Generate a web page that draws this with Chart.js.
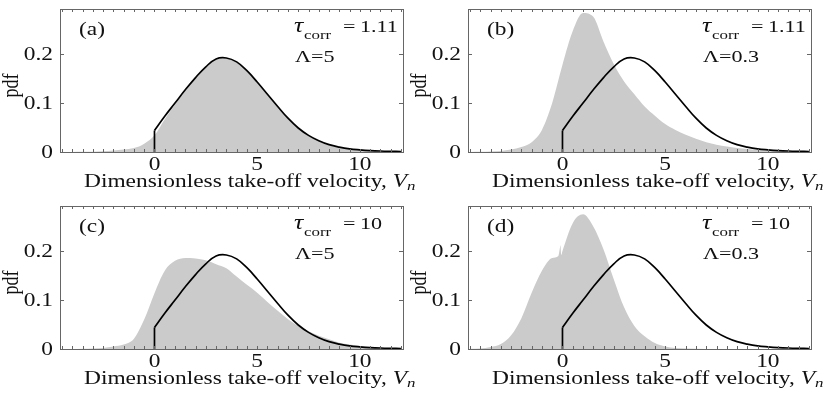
<!DOCTYPE html>
<html>
<head>
<meta charset="utf-8">
<script src="https://cdn.jsdelivr.net/npm/chart.js@4.4.0/dist/chart.umd.min.js"></script>
<style>
    html, body { margin: 0; padding: 0; background: #fff; }
    body { width: 830px; height: 397px; position: relative; overflow: hidden; }
    canvas { position: absolute; }
</style>
</head>
<body>
<canvas id="panel-a"></canvas>
<canvas id="panel-b"></canvas>
<canvas id="panel-c"></canvas>
<canvas id="panel-d"></canvas>
<script>
// model curve (same in all four panels)
const curveX = [0, 0.5, 1, 1.5, 2, 2.5, 3, 3.5, 4, 4.5, 5, 5.5, 6, 6.5, 7, 7.5, 8, 8.5, 9, 9.5, 10, 10.5, 11, 11.5, 12];
const curveY = [0.044, 0.073, 0.100, 0.127, 0.152, 0.174, 0.190, 0.192, 0.184, 0.166, 0.143, 0.118, 0.093, 0.069, 0.049, 0.034, 0.023, 0.015, 0.010, 0.0065, 0.0045, 0.003, 0.002, 0.0014, 0.001];
const stemX = [0, 0];
const stemY = [0, 0.044];

// histograms
const binX = [-4.5, -4, -3.5, -3, -2.5, -2, -1.5, -1, -0.5, 0, 0.5, 1, 1.5, 2, 2.5, 3, 3.5, 4, 4.5, 5, 5.5, 6, 6.5, 7, 7.5, 8, 8.5, 9, 9.5, 10, 10.5, 11, 11.5, 12];
const histA = [0, 0, 0.0003, 0.0007, 0.0015, 0.003, 0.005, 0.008, 0.017, 0.034, 0.067, 0.097, 0.125, 0.151, 0.173, 0.189, 0.191, 0.183, 0.165, 0.142, 0.117, 0.092, 0.068, 0.048, 0.033, 0.022, 0.014, 0.009, 0.006, 0.004, 0.0028, 0.0018, 0.0012, 0.0008];
const histB = [0, 0.0005, 0.001, 0.002, 0.005, 0.010, 0.020, 0.045, 0.100, 0.178, 0.247, 0.284, 0.276, 0.225, 0.179, 0.144, 0.118, 0.093, 0.074, 0.057, 0.045, 0.035, 0.027, 0.020, 0.015, 0.011, 0.008, 0.006, 0.004, 0.003, 0.002, 0.0014, 0.001, 0.0007];
const histC = [0, 0, 0.0005, 0.001, 0.002, 0.005, 0.009, 0.021, 0.060, 0.114, 0.160, 0.180, 0.186, 0.185, 0.181, 0.173, 0.165, 0.148, 0.131, 0.115, 0.096, 0.078, 0.061, 0.047, 0.036, 0.027, 0.020, 0.013, 0.009, 0.006, 0.004, 0.0025, 0.0015, 0.001];
const histDX = [-4.5, -4, -3.5, -3, -2.5, -2, -1.5, -1, -0.5, -0.2, -0.13, -0.1, -0.06, 0, 0.5, 1, 1.5, 2, 2.5, 3, 3.5, 4, 4.5, 5, 5.5, 6, 7, 8, 10, 12];
const histDY = [0.0005, 0.001, 0.004, 0.010, 0.028, 0.063, 0.115, 0.160, 0.186, 0.190, 0.205, 0.212, 0.192, 0.200, 0.257, 0.275, 0.250, 0.203, 0.142, 0.085, 0.047, 0.026, 0.012, 0.005, 0.002, 0.001, 0, 0, 0, 0];

// axes
const xTickVals = [0, 5, 10];
const xMinorStep = 0.5;
const yTickVals = [0, 0.1, 0.2];

// annotations
const panelLabels = ['(a)', '(b)', '(c)', '(d)'];
const tauValues = ['1.11', '1.11', '10', '10'];
const lambdaValues = ['5', '0.3', '5', '0.3'];

const FONT = '"Liberation Serif", "Times New Roman", serif';
const SX = 1.3; // the picture is stretched sideways

function toPoints(xs, ys) {
    return xs.map((x, i) => ({x: x, y: ys[i]}));
}

// draw text stretched horizontally, returns right edge
function txt(ctx, s, x, y, font, align) {
    ctx.save();
    ctx.font = font;
    const w = ctx.measureText(s).width * SX;
    let x0 = x;
    if (align === 'right') x0 = x - w;
    else if (align === 'center') x0 = x - w / 2;
    ctx.translate(x0, y);
    ctx.scale(SX, 1);
    ctx.textAlign = 'left';
    ctx.textBaseline = 'alphabetic';
    ctx.fillText(s, 0, 0);
    ctx.restore();
    return x0 + w;
}

const frame = {
    id: 'frame',
    afterDraw(chart) {
        const ctx = chart.ctx;
        const a = chart.chartArea;
        const xs = chart.scales.x;
        const ys = chart.scales.y;
        const idx = chart.options.panelIndex;

        ctx.save();
        // box
        ctx.strokeStyle = '#666';
        ctx.lineWidth = 1;
        ctx.strokeRect(Math.round(a.left) + 0.5, Math.round(a.top) + 0.5,
            Math.round(a.right - a.left), Math.round(a.bottom - a.top));

        // inward ticks
        ctx.beginPath();
        for (let v = -4.5; v <= 12; v += xMinorStep) {
            const px = Math.round(xs.getPixelForValue(v)) + 0.5;
            ctx.moveTo(px, a.bottom);
            ctx.lineTo(px, a.bottom - 3);
            ctx.moveTo(px, a.top);
            ctx.lineTo(px, a.top + 3);
        }
        yTickVals.forEach(v => {
            const py = Math.round(ys.getPixelForValue(v)) + 0.5;
            ctx.moveTo(a.left, py);
            ctx.lineTo(a.left + 4, py);
            ctx.moveTo(a.right, py);
            ctx.lineTo(a.right - 4, py);
        });
        ctx.stroke();

        ctx.fillStyle = '#111';
        const f18 = '18px ' + FONT;
        const f17 = '17px ' + FONT;
        const f13 = '13px ' + FONT;

        // tick labels
        xTickVals.forEach(v => {
            txt(ctx, String(v), xs.getPixelForValue(v), a.bottom + 18, f18, 'center');
        });
        yTickVals.forEach(v => {
            txt(ctx, String(v), a.left - 7, ys.getPixelForValue(v) + 6, f18, 'right');
        });

        // x title
        let x = txt(ctx, 'Dimensionless take-off velocity, ', a.left + 24, a.bottom + 35, f18, 'left');
        x = txt(ctx, 'V', x, a.bottom + 35, 'italic ' + f18, 'left');
        txt(ctx, 'n', x, a.bottom + 38, 'italic ' + f13, 'left');

        // y title
        ctx.save();
        ctx.translate(a.left - 42, (a.top + a.bottom) / 2 + 5);
        ctx.rotate(-Math.PI / 2);
        ctx.scale(1, SX);
        ctx.font = f18;
        ctx.textAlign = 'center';
        ctx.textBaseline = 'alphabetic';
        ctx.fillText('pdf', 0, 0);
        ctx.restore();

        // panel label and parameters
        txt(ctx, panelLabels[idx], a.left + 19, a.top + 26, f18, 'left');
        txt(ctx, '\u03C4', a.left + 234, a.top + 23, 'italic 20px ' + FONT, 'left');
        txt(ctx, 'corr', a.left + 244, a.top + 30, f13, 'left');
        txt(ctx, '=', a.left + 283, a.top + 23, f17, 'left');
        txt(ctx, tauValues[idx], a.left + 300, a.top + 23, f17, 'left');
        txt(ctx, '\u039B=' + lambdaValues[idx], a.left + 235, a.top + 53, f17, 'left');
        ctx.restore();
    }
};

function makePanel(id, idx, left, top, width, height, histX, histY) {
    const canvas = document.getElementById(id);
    canvas.width = width;
    canvas.height = height;
    canvas.style.left = left + 'px';
    canvas.style.top = top + 'px';
    canvas.style.width = width + 'px';
    canvas.style.height = height + 'px';

    return new Chart(canvas, {
        type: 'line',
        data: {
            datasets: [
                {
                    data: toPoints(curveX, curveY),
                    borderColor: '#000',
                    borderWidth: 1.7,
                    pointRadius: 0,
                    tension: 0.4,
                    fill: false,
                    order: 0
                },
                {
                    data: toPoints(stemX, stemY),
                    borderColor: '#000',
                    borderWidth: 1.7,
                    pointRadius: 0,
                    tension: 0,
                    fill: false,
                    order: 1
                },
                {
                    data: toPoints(histX, histY),
                    borderColor: 'rgba(0,0,0,0)',
                    borderWidth: 0,
                    backgroundColor: '#cbcbcb',
                    pointRadius: 0,
                    cubicInterpolationMode: 'monotone',
                    fill: 'origin',
                    order: 2
                }
            ]
        },
        options: {
            panelIndex: idx,
            responsive: false,
            animation: false,
            devicePixelRatio: 1,
            layout: {padding: {left: 0, top: 9, right: width - 403, bottom: 0}},
            plugins: {legend: {display: false}, tooltip: {enabled: false}},
            scales: {
                x: {
                    type: 'linear',
                    min: -4.6,
                    max: 12.1,
                    grid: {display: false},
                    border: {display: false},
                    ticks: {display: false},
                    afterBuildTicks: s => { s.ticks = xTickVals.map(v => ({value: v})); },
                    afterFit: s => { s.height = height - 152; }
                },
                y: {
                    type: 'linear',
                    min: 0,
                    max: 0.292,
                    grid: {display: false},
                    border: {display: false},
                    ticks: {display: false},
                    afterBuildTicks: s => { s.ticks = yTickVals.map(v => ({value: v})); },
                    afterFit: s => { s.width = 60; }
                }
            }
        },
        plugins: [frame]
    });
}

makePanel('panel-a', 0, 0, 0, 415, 197, binX, histA);
makePanel('panel-b', 1, 408, 0, 422, 197, binX, histB);
makePanel('panel-c', 2, 0, 197, 415, 200, binX, histC);
makePanel('panel-d', 3, 408, 197, 422, 200, histDX, histDY);
</script>
</body>
</html>
